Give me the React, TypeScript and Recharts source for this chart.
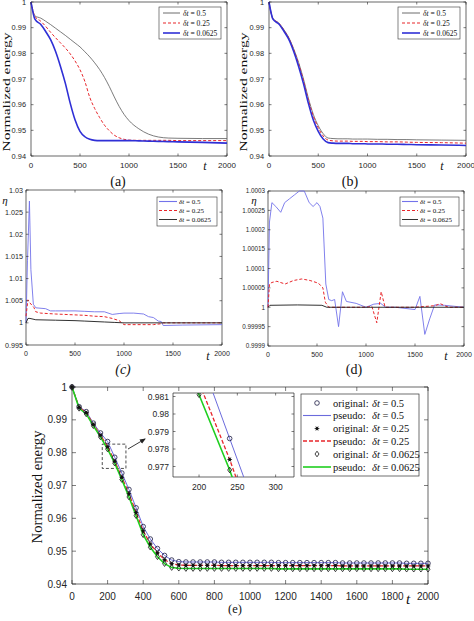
import React from 'react';
import { LineChart, Line, XAxis, YAxis, ReferenceArea } from 'recharts';

const SANS = '"Liberation Sans", Arial, Helvetica, sans-serif';
const SERIF = '"Liberation Serif", "Times New Roman", serif';
const INK = '#262626';

const GRAY = '#5b5b5b';
const RED = '#e8262b';
const BLUE = '#2f2fd6';
const LBLUE = '#7373ea';
const EBLUE = '#6b6bdc';
const GREEN = '#1fcf1f';
const BLACK = '#1a1a1a';

const stepLabels = ['0.5', '0.25', '0.0625'];

// (a) and (b): normalized energy
const abTimes = [0, 40, 100, 150, 200, 250, 300, 350, 400, 450, 500, 550, 600, 650, 700, 750, 800, 850, 900, 950, 1000, 1100, 1200, 1300, 1400, 1500, 1750, 2000];
const aHalf = [1, 0.9946, 0.9937, 0.9925, 0.9912, 0.9898, 0.9884, 0.987, 0.9855, 0.984, 0.9825, 0.9806, 0.9786, 0.9763, 0.9737, 0.9706, 0.967, 0.963, 0.9593, 0.9562, 0.9538, 0.9506, 0.9485, 0.9474, 0.947, 0.9469, 0.9468, 0.9468];
const aQuarter = [1, 0.9944, 0.9925, 0.9905, 0.9882, 0.9861, 0.9841, 0.9821, 0.9798, 0.977, 0.9736, 0.969, 0.9628, 0.9585, 0.955, 0.952, 0.9498, 0.9481, 0.9471, 0.9465, 0.9462, 0.9461, 0.9461, 0.9461, 0.9461, 0.946, 0.946, 0.946];
const aSixteenth = [1, 0.9933, 0.9912, 0.9885, 0.9853, 0.9808, 0.975, 0.9684, 0.9606, 0.954, 0.9496, 0.9475, 0.9465, 0.9461, 0.946, 0.946, 0.946, 0.946, 0.946, 0.946, 0.946, 0.9459, 0.9458, 0.9457, 0.9456, 0.9455, 0.9453, 0.945];
const bHalf = [1, 0.9936, 0.9918, 0.9893, 0.9862, 0.9818, 0.9765, 0.97, 0.9625, 0.9562, 0.9518, 0.9487, 0.947, 0.9468, 0.9467, 0.9467, 0.9467, 0.9466, 0.9466, 0.9466, 0.9466, 0.9465, 0.9465, 0.9464, 0.9464, 0.9463, 0.9462, 0.9461];
const bQuarter = [1, 0.9935, 0.9917, 0.9891, 0.986, 0.9815, 0.976, 0.9694, 0.9618, 0.9555, 0.951, 0.9478, 0.9462, 0.9459, 0.9458, 0.9458, 0.9458, 0.9457, 0.9457, 0.9457, 0.9456, 0.9456, 0.9455, 0.9455, 0.9454, 0.9453, 0.9452, 0.945];
const bSixteenth = [1, 0.9933, 0.9914, 0.9887, 0.9855, 0.9808, 0.975, 0.9682, 0.9605, 0.954, 0.9496, 0.9466, 0.9452, 0.945, 0.9449, 0.9449, 0.9449, 0.9448, 0.9448, 0.9448, 0.9447, 0.9447, 0.9446, 0.9446, 0.9445, 0.9444, 0.9443, 0.9441];

// (c): eta, coarse scale
const cHalfT = [0, 15, 35, 50, 75, 100, 200, 250, 300, 500, 600, 700, 800, 880, 950, 1000, 1100, 1200, 1250, 1300, 1350, 1380, 1400, 1600, 2000];
const cHalfV = [1.0, 1.014, 1.0275, 1.012, 1.0042, 1.0034, 1.0032, 1.0027, 1.0027, 1.0027, 1.0026, 1.0025, 1.0025, 1.0019, 1.0021, 1.0022, 1.0022, 1.002, 1.0014, 1.0012, 1.0004, 1.0003, 0.9994, 0.9995, 0.9996];
const cQuarterT = [0, 20, 40, 80, 100, 150, 300, 500, 600, 700, 800, 880, 950, 1000, 1300, 1380, 1400, 2000];
const cQuarterV = [1.0015, 1.0052, 1.0045, 1.0035, 1.0025, 1.0022, 1.002, 1.0018, 1.0017, 1.0015, 1.0014, 1.001, 1.0005, 0.9996, 0.9996, 0.9998, 1.0, 1.0];
const cSixteenthT = [0, 20, 40, 100, 300, 500, 600, 800, 900, 1000, 2000];
const cSixteenthV = [1.0, 1.001, 1.001, 1.0007, 1.0006, 1.0005, 1.0004, 1.0002, 1.0001, 1.0, 1.0];

// (d): eta, fine scale
const dHalfT = [0, 15, 40, 80, 130, 170, 220, 270, 320, 370, 420, 460, 500, 530, 560, 590, 620, 650, 680, 720, 760, 800, 900, 1000, 1080, 1150, 1200, 1300, 1500, 1550, 1600, 1650, 1700, 1800, 2000];
const dHalfV = [1.0, 1.00022, 1.00027, 1.00026, 1.000245, 1.00027, 1.00028, 1.00029, 1.0003, 1.0003, 1.00027, 1.00026, 1.00027, 1.00026, 1.00023, 1.00006, 1.00002, 1.000017, 1.00002, 0.99995, 1.00004, 1.000015, 1.00001, 1.0, 1.000008, 1.00001, 1.0, 1.0, 0.999994, 1.000028, 0.99993, 0.99997, 1.000006, 1.000005, 1.0];
const dQuarterT = [0, 15, 40, 90, 175, 260, 345, 430, 515, 560, 585, 620, 700, 1000, 1060, 1110, 1155, 1195, 1300, 1500, 1700, 1760, 1810, 1850, 2000];
const dQuarterV = [1.0, 1.00006, 1.000064, 1.000067, 1.00006, 1.000069, 1.000073, 1.000069, 1.000062, 1.00005, 1.000013, 1.0, 1.0, 1.0, 1.000002, 0.99996, 1.00004, 1.0, 1.0, 1.0, 1.000004, 1.000009, 1.000003, 1.0, 1.0];
const dSixteenthT = [0, 20, 300, 550, 600, 2000];
const dSixteenthV = [1.0, 1.000005, 1.000006, 1.000005, 1.0, 1.0];

// (e): original vs pseudo, sampled every 40
const eTimes = [0, 40, 80, 120, 160, 200, 240, 280, 320, 360, 400, 440, 480, 520, 560, 600, 640, 680, 720, 760, 800, 840, 880, 920, 960, 1000, 1040, 1080, 1120, 1160, 1200, 1240, 1280, 1320, 1360, 1400, 1440, 1480, 1520, 1560, 1600, 1640, 1680, 1720, 1760, 1800, 1840, 1880, 1920, 1960, 2000];
const eHalf = [1, 0.994, 0.9925, 0.989, 0.986, 0.9834, 0.9786, 0.9738, 0.9688, 0.9632, 0.9575, 0.9537, 0.9508, 0.9487, 0.9473, 0.9468,
  0.9467, 0.9467, 0.9467, 0.9467, 0.9467, 0.9466, 0.9466, 0.9466, 0.9466, 0.9466, 0.9466, 0.9466, 0.9466,
  0.9465, 0.9465, 0.9465, 0.9465, 0.9465, 0.9465, 0.9465, 0.9465, 0.9465,
  0.9464, 0.9464, 0.9464, 0.9464, 0.9464, 0.9464, 0.9464, 0.9464, 0.9464, 0.9463, 0.9463, 0.9463, 0.9463];
const eQuarter = [1, 0.9938, 0.9922, 0.9886, 0.9853, 0.9818, 0.9774, 0.9725, 0.9675, 0.9618, 0.9562, 0.9522, 0.9495, 0.9474, 0.9462, 0.9458,
  0.9457, 0.9457, 0.9457, 0.9457, 0.9457, 0.9456, 0.9456, 0.9456, 0.9456, 0.9456, 0.9456, 0.9456, 0.9456,
  0.9456, 0.9456, 0.9456, 0.9456, 0.9456, 0.9456, 0.9456, 0.9456, 0.9456,
  0.9455, 0.9455, 0.9455, 0.9455, 0.9455, 0.9455, 0.9455, 0.9455, 0.9455, 0.9455, 0.9455, 0.9455, 0.9455];
const eSixteenth = [1, 0.9935, 0.9918, 0.9882, 0.9848, 0.9811, 0.9768, 0.9718, 0.9665, 0.9608, 0.955, 0.9512, 0.9483, 0.9462, 0.945, 0.9448,
  0.9447, 0.9447, 0.9447, 0.9447, 0.9447, 0.9447, 0.9447, 0.9447, 0.9447, 0.9447, 0.9447, 0.9447, 0.9447,
  0.9446, 0.9446, 0.9446, 0.9446, 0.9446, 0.9446, 0.9446, 0.9446, 0.9446,
  0.9446, 0.9446, 0.9446, 0.9446, 0.9446, 0.9446, 0.9446, 0.9446, 0.9446, 0.9445, 0.9445, 0.9445, 0.9445];

const energyTicks = [0.94, 0.95, 0.96, 0.97, 0.98, 0.99, 1];
const t500Ticks = [0, 500, 1000, 1500, 2000];
const t200Ticks = [0, 200, 400, 600, 800, 1000, 1200, 1400, 1600, 1800, 2000];
const cTicks = [0.995, 1, 1.005, 1.01, 1.015, 1.02, 1.025, 1.03];
const dTicks = [0.9999, 0.99995, 1, 1.00005, 1.0001, 1.00015, 1.0002, 1.00025, 1.0003];
const insetXTicks = [200, 250, 300];
const insetYTicks = [0.977, 0.978, 0.979, 0.98, 0.981];

const zip = (t: number[], v: number[]) => t.map((x, i) => ({ t: x, v: v[i] }));

const abData = abTimes.map((t, i) => ({
  t, a1: aHalf[i], a2: aQuarter[i], a3: aSixteenth[i], b1: bHalf[i], b2: bQuarter[i], b3: bSixteenth[i],
}));
const eData = eTimes.map((t, i) => ({ t, e1: eHalf[i], e2: eQuarter[i], e3: eSixteenth[i] }));

const fmt = (v: number) => String(Number(v.toFixed(6)));

type Box = { x: number; y: number; w: number; h: number };
type PanelProps = {
  box: Box;
  xDomain: [number, number];
  xTicks: number[];
  yDomain: [number, number];
  yTicks: number[];
  xFs: number;
  yFs: number;
  xGap: number;
  yGap: number;
  tickLen: number;
  data?: any[];
  clip?: boolean;
  children: React.ReactNode;
};

const PAD_L = 60;
const PAD_T = 8;
const PAD_R = 16;
const PAD_B = 26;

function Panel(p: PanelProps) {
  const L = PAD_L;
  const R = PAD_L + p.box.w;
  const T = PAD_T;
  const B = PAD_T + p.box.h;

  const xTick = (q: any) => (
    <g>
      <line x1={q.x} x2={q.x} y1={B} y2={B - p.tickLen} stroke={INK} strokeWidth={0.6} />
      <line x1={q.x} x2={q.x} y1={T} y2={T + p.tickLen} stroke={INK} strokeWidth={0.6} />
      <text x={q.x} y={B + p.xGap} dy="0.36em" textAnchor="middle" fontSize={p.xFs} fontFamily={SANS} fill={INK}>
        {fmt(q.payload.value)}
      </text>
    </g>
  );
  const yTick = (q: any) => (
    <g>
      <line x1={L} x2={L + p.tickLen} y1={q.y} y2={q.y} stroke={INK} strokeWidth={0.6} />
      <line x1={R - p.tickLen} x2={R} y1={q.y} y2={q.y} stroke={INK} strokeWidth={0.6} />
      <text x={L - p.yGap} y={q.y} dy="0.36em" textAnchor="end" fontSize={p.yFs} fontFamily={SANS} fill={INK}>
        {fmt(q.payload.value)}
      </text>
    </g>
  );

  return (
    <div style={{ position: 'absolute', left: p.box.x - PAD_L, top: p.box.y - PAD_T }}>
      <LineChart
        width={PAD_L + p.box.w + PAD_R}
        height={PAD_T + p.box.h + PAD_B}
        data={p.data}
        margin={{ top: PAD_T, right: PAD_R, bottom: 0, left: 0 }}
      >
        <XAxis type="number" dataKey="t" domain={p.xDomain} ticks={p.xTicks} interval={0} height={PAD_B}
          axisLine={false} tickLine={false} tick={xTick} allowDataOverflow={p.clip} />
        <YAxis type="number" domain={p.yDomain} ticks={p.yTicks} interval={0} width={PAD_L}
          axisLine={false} tickLine={false} tick={yTick} allowDataOverflow={p.clip} />
        <ReferenceArea x1={p.xDomain[0]} x2={p.xDomain[1]} y1={p.yDomain[0]} y2={p.yDomain[1]}
          fill="none" fillOpacity={0} stroke={INK} strokeWidth={0.7} ifOverflow="visible" />
        {p.children}
      </LineChart>
    </div>
  );
}

// markers for the "original" runs in (e)
const circleDot = (q: any) => (
  <circle key={`c${q.index}`} cx={q.cx} cy={q.cy} r={2.3} fill="none" stroke="#1c1c44" strokeWidth={0.8} />
);
const starDot = (q: any) => (
  <g key={`s${q.index}`}>
    <circle cx={q.cx} cy={q.cy} r={1.5} fill="#111" />
    <line x1={q.cx - 2.4} x2={q.cx + 2.4} y1={q.cy} y2={q.cy} stroke="#111" strokeWidth={0.7} />
    <line x1={q.cx - 1.2} x2={q.cx + 1.2} y1={q.cy - 2.1} y2={q.cy + 2.1} stroke="#111" strokeWidth={0.7} />
    <line x1={q.cx - 1.2} x2={q.cx + 1.2} y1={q.cy + 2.1} y2={q.cy - 2.1} stroke="#111" strokeWidth={0.7} />
  </g>
);
const diamondDot = (q: any) => (
  <path key={`d${q.index}`} d={`M${q.cx},${q.cy - 2.8}L${q.cx + 2},${q.cy}L${q.cx},${q.cy + 2.8}L${q.cx - 2},${q.cy}Z`}
    fill="none" stroke="#111" strokeWidth={0.8} />
);

const MathStep = ({ v }: { v: string }) => (
  <>
    <tspan fontStyle="italic">δt</tspan>
    <tspan> = {v}</tspan>
  </>
);

type LegendItem = { color: string; dash?: string; width: number };

function SmallLegend({ x, y, w, h, rows, lx, tx, fs, items }: {
  x: number; y: number; w: number; h: number; rows: number[]; lx: [number, number]; tx: number; fs: number; items: LegendItem[];
}) {
  return (
    <g>
      <rect x={x} y={y} width={w} height={h} fill="#fff" stroke="#333" strokeWidth={0.6} />
      {items.map((it, i) => (
        <g key={i}>
          <line x1={lx[0]} x2={lx[1]} y1={rows[i]} y2={rows[i]} stroke={it.color} strokeWidth={it.width} strokeDasharray={it.dash} />
          <text x={tx} y={rows[i]} dy="0.35em" fontSize={fs} fontFamily={SERIF} fill="#111">
            <MathStep v={stepLabels[i]} />
          </text>
        </g>
      ))}
    </g>
  );
}

const abItems: LegendItem[] = [
  { color: GRAY, width: 0.9 },
  { color: RED, dash: '3 2', width: 1.1 },
  { color: BLUE, width: 1.6 },
];
const cdItems: LegendItem[] = [
  { color: LBLUE, width: 1.1 },
  { color: RED, dash: '3 2', width: 1.1 },
  { color: BLACK, width: 0.9 },
];

const eRows = [403, 415.5, 428.5, 441, 454, 467];

export default function App() {
  return (
    <div style={{ position: 'absolute', left: 0, top: 0, width: 474, height: 621, background: '#fff', overflow: 'hidden' }}>
      {/* (a) */}
      <Panel box={{ x: 31, y: 2, w: 196, h: 154 }} xDomain={[0, 2000]} xTicks={t500Ticks} yDomain={[0.94, 1]} yTicks={energyTicks}
        xFs={8} yFs={7.4} xGap={9} yGap={5} tickLen={2.5} data={abData}>
        <Line dataKey="a1" type="monotone" stroke={GRAY} strokeWidth={0.8} dot={false} isAnimationActive={false} />
        <Line dataKey="a2" type="monotone" stroke={RED} strokeWidth={1} strokeDasharray="3 2" dot={false} isAnimationActive={false} />
        <Line dataKey="a3" type="monotone" stroke={BLUE} strokeWidth={1.6} dot={false} isAnimationActive={false} />
      </Panel>

      {/* (b) */}
      <Panel box={{ x: 269, y: 2, w: 197, h: 154 }} xDomain={[0, 2000]} xTicks={t500Ticks} yDomain={[0.94, 1]} yTicks={energyTicks}
        xFs={8} yFs={7.4} xGap={9} yGap={5} tickLen={2.5} data={abData}>
        <Line dataKey="b1" type="monotone" stroke={GRAY} strokeWidth={0.8} dot={false} isAnimationActive={false} />
        <Line dataKey="b2" type="monotone" stroke={RED} strokeWidth={1} strokeDasharray="3 2" dot={false} isAnimationActive={false} />
        <Line dataKey="b3" type="monotone" stroke={BLUE} strokeWidth={1.6} dot={false} isAnimationActive={false} />
      </Panel>

      {/* (c) */}
      <Panel box={{ x: 26, y: 190, w: 196, h: 155 }} xDomain={[0, 2000]} xTicks={t500Ticks} yDomain={[0.995, 1.03]} yTicks={cTicks}
        xFs={7} yFs={7.2} xGap={8} yGap={3} tickLen={2.5}>
        <Line data={zip(cHalfT, cHalfV)} dataKey="v" type="linear" stroke={LBLUE} strokeWidth={0.9} dot={false} isAnimationActive={false} />
        <Line data={zip(cQuarterT, cQuarterV)} dataKey="v" type="linear" stroke={RED} strokeWidth={1} strokeDasharray="3 2" dot={false} isAnimationActive={false} />
        <Line data={zip(cSixteenthT, cSixteenthV)} dataKey="v" type="linear" stroke={BLACK} strokeWidth={0.9} dot={false} isAnimationActive={false} />
      </Panel>

      {/* (d) */}
      <Panel box={{ x: 268, y: 191, w: 196, h: 155 }} xDomain={[0, 2000]} xTicks={t500Ticks} yDomain={[0.9999, 1.0003]} yTicks={dTicks}
        xFs={7} yFs={6.3} xGap={8} yGap={3} tickLen={2.5}>
        <Line data={zip(dHalfT, dHalfV)} dataKey="v" type="linear" stroke={LBLUE} strokeWidth={0.9} dot={false} isAnimationActive={false} />
        <Line data={zip(dQuarterT, dQuarterV)} dataKey="v" type="linear" stroke={RED} strokeWidth={1} strokeDasharray="3 2" dot={false} isAnimationActive={false} />
        <Line data={zip(dSixteenthT, dSixteenthV)} dataKey="v" type="linear" stroke={BLACK} strokeWidth={0.9} dot={false} isAnimationActive={false} />
      </Panel>

      {/* (e) */}
      <Panel box={{ x: 72, y: 387, w: 356, h: 197 }} xDomain={[0, 2000]} xTicks={t200Ticks} yDomain={[0.94, 1]} yTicks={energyTicks}
        xFs={10} yFs={10} xGap={12} yGap={5} tickLen={4} data={eData}>
        <ReferenceArea x1={170} x2={303} y1={0.9752} y2={0.9826} fill="none" fillOpacity={0} stroke="#222" strokeWidth={0.8} strokeDasharray="3 2" />
        <Line dataKey="e1" type="linear" stroke={EBLUE} strokeWidth={1} dot={circleDot} isAnimationActive={false} />
        <Line dataKey="e2" type="linear" stroke={RED} strokeWidth={1.3} strokeDasharray="4 2" dot={starDot} isAnimationActive={false} />
        <Line dataKey="e3" type="linear" stroke={GREEN} strokeWidth={1.6} dot={diamondDot} isAnimationActive={false} />
      </Panel>

      {/* inset of (e) */}
      <div style={{ position: 'absolute', left: 173, top: 393, width: 121, height: 84, background: '#fff' }} />
      <Panel box={{ x: 173, y: 393, w: 121, h: 84 }} xDomain={[166, 324]} xTicks={insetXTicks} yDomain={[0.9764, 0.9812]} yTicks={insetYTicks}
        xFs={8.5} yFs={8.5} xGap={10} yGap={4} tickLen={2.5} data={eData} clip>
        <Line dataKey="e1" type="linear" stroke={EBLUE} strokeWidth={1} dot={circleDot} isAnimationActive={false} />
        <Line dataKey="e2" type="linear" stroke={RED} strokeWidth={1.3} strokeDasharray="4 2" dot={starDot} isAnimationActive={false} />
        <Line dataKey="e3" type="linear" stroke={GREEN} strokeWidth={1.6} dot={diamondDot} isAnimationActive={false} />
      </Panel>

      <svg width={474} height={621} style={{ position: 'absolute', left: 0, top: 0, pointerEvents: 'none' }}>
        <defs>
          <marker id="arrowHead" markerWidth="6" markerHeight="6" refX="5" refY="3" orient="auto" markerUnits="userSpaceOnUse">
            <path d="M0,0.5 L6,3 L0,5.5 Z" fill="#222" />
          </marker>
        </defs>

        {/* axis titles */}
        <text transform="translate(6,92) rotate(-90)" textAnchor="middle" dy="0.35em" fontSize={11} fontFamily={SERIF} fill="#111"
          textLength={119} lengthAdjust="spacingAndGlyphs">Normalized energy</text>
        <text transform="translate(243,92) rotate(-90)" textAnchor="middle" dy="0.35em" fontSize={11} fontFamily={SERIF} fill="#111"
          textLength={119} lengthAdjust="spacingAndGlyphs">Normalized energy</text>
        <text transform="translate(37,487) rotate(-90)" textAnchor="middle" dy="0.35em" fontSize={14} fontFamily={SERIF} fill="#111"
          textLength={113} lengthAdjust="spacingAndGlyphs">Normalized energy</text>

        <text x={5} y={200} dy="0.35em" textAnchor="middle" fontSize={11} fontStyle="italic" fontFamily={SERIF} fill="#111">η</text>
        <text x={254} y={200} dy="0.35em" textAnchor="middle" fontSize={11} fontStyle="italic" fontFamily={SERIF} fill="#111">η</text>

        <text x={205} y={166} dy="0.35em" textAnchor="middle" fontSize={12} fontStyle="italic" fontFamily={SERIF} fill="#111">t</text>
        <text x={442} y={166} dy="0.35em" textAnchor="middle" fontSize={12} fontStyle="italic" fontFamily={SERIF} fill="#111">t</text>
        <text x={208} y={356} dy="0.35em" textAnchor="middle" fontSize={12} fontStyle="italic" fontFamily={SERIF} fill="#111">t</text>
        <text x={446} y={356} dy="0.35em" textAnchor="middle" fontSize={12} fontStyle="italic" fontFamily={SERIF} fill="#111">t</text>
        <text x={408} y={599} dy="0.35em" textAnchor="middle" fontSize={15} fontStyle="italic" fontFamily={SERIF} fill="#111">t</text>

        {/* captions */}
        <text x={118} y={181} dy="0.35em" textAnchor="middle" fontSize={14} fontFamily={SERIF} fill="#111">(a)</text>
        <text x={350} y={181} dy="0.35em" textAnchor="middle" fontSize={14} fontFamily={SERIF} fill="#111">(b)</text>
        <text x={123} y={369} dy="0.35em" textAnchor="middle" fontSize={14} fontStyle="italic" fontFamily={SERIF} fill="#111">(c)</text>
        <text x={354} y={369} dy="0.35em" textAnchor="middle" fontSize={14} fontFamily={SERIF} fill="#111">(d)</text>
        <text x={235} y={609} dy="0.35em" textAnchor="middle" fontSize={12.5} fontFamily={SERIF} fill="#111">(e)</text>

        {/* legends */}
        <SmallLegend x={159} y={7} w={62} h={32} rows={[13, 23, 33]} lx={[163, 180]} tx={183} fs={7.5} items={abItems} />
        <SmallLegend x={398} y={7} w={62} h={32} rows={[13, 23, 33]} lx={[402, 420]} tx={423} fs={7.5} items={abItems} />
        <SmallLegend x={157} y={197} w={60} h={29} rows={[201.5, 210.5, 219.5]} lx={[159, 177]} tx={179} fs={7} items={cdItems} />
        <SmallLegend x={400} y={197} w={59} h={29} rows={[201.5, 210.5, 219.5]} lx={[402, 418]} tx={420} fs={7} items={cdItems} />

        {/* legend of (e) */}
        <rect x={301} y={394} width={118} height={82} fill="#fff" stroke="#333" strokeWidth={0.7} />
        {eRows.map((ry, i) => {
          const k = Math.floor(i / 2);
          const isOriginal = i % 2 === 0;
          const q = { cx: 317, cy: ry, index: i };
          return (
            <g key={i}>
              {isOriginal
                ? (k === 0 ? circleDot(q) : k === 1 ? starDot(q) : diamondDot(q))
                : (
                  <line x1={303} x2={331} y1={ry} y2={ry}
                    stroke={k === 0 ? EBLUE : k === 1 ? RED : GREEN}
                    strokeWidth={k === 0 ? 1.1 : k === 1 ? 1.3 : 1.6}
                    strokeDasharray={k === 1 ? '4 2' : undefined} />
                )}
              <text x={333} y={ry} dy="0.35em" fontSize={10.5} fontFamily={SERIF} fill="#111">{isOriginal ? 'original:' : 'pseudo:'}</text>
              <text x={372} y={ry} dy="0.35em" fontSize={10.5} fontFamily={SERIF} fill="#111">
                <MathStep v={stepLabels[k]} />
              </text>
            </g>
          );
        })}

        {/* zoom arrow */}
        <line x1={128} y1={449} x2={145} y2={439} stroke="#222" strokeWidth={0.9} markerEnd="url(#arrowHead)" />
      </svg>
    </div>
  );
}
